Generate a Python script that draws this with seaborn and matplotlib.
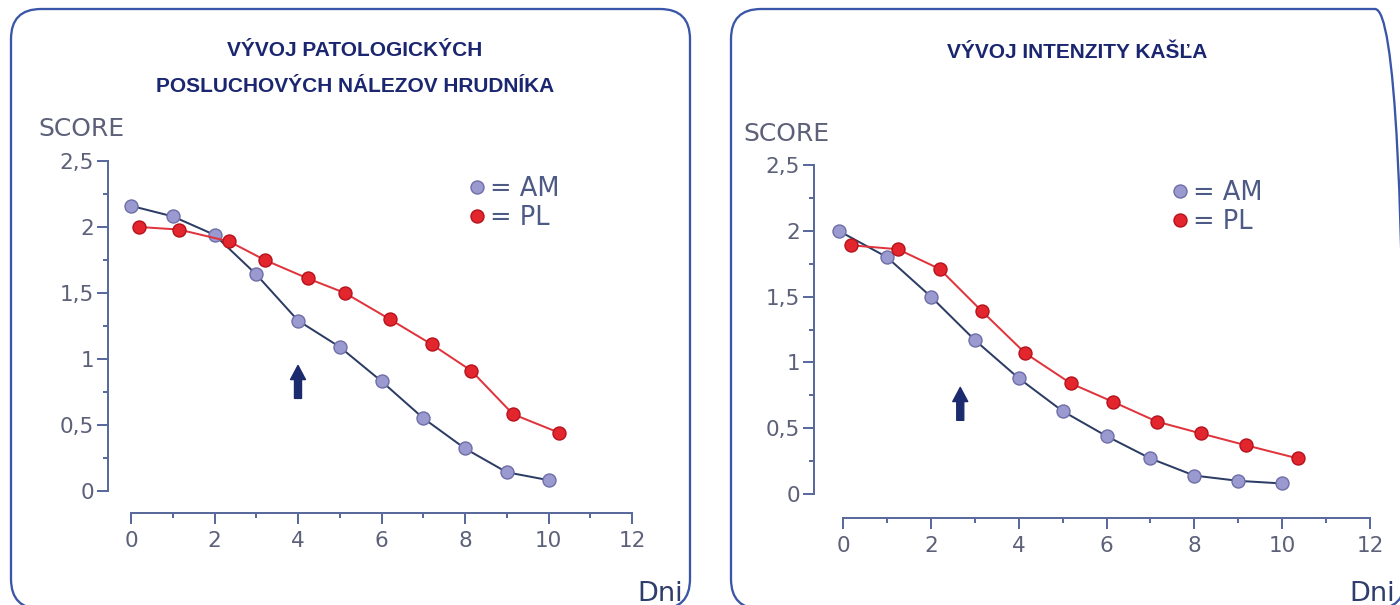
import matplotlib
matplotlib.use("Agg")
import matplotlib.pyplot as plt
import seaborn as sns
import pandas as pd
from matplotlib.lines import Line2D
from matplotlib.patches import FancyBboxPatch

sns.set_theme(style="white")
plt.rcParams['font.family'] = ['DejaVu Sans']

# ---------------- data ----------------
titles = [["VÝVOJ PATOLOGICKÝCH", "POSLUCHOVÝCH NÁLEZOV HRUDNÍKA"], ["VÝVOJ INTENZITY KAŠĽA"]]
series_names = ["AM", "PL"]

left_am_x = [0, 1, 2, 3, 4, 5, 6, 7, 8, 9, 10]
left_am_y = [2.16, 2.08, 1.94, 1.64, 1.29, 1.09, 0.83, 0.55, 0.32, 0.14, 0.08]
left_pl_x = [0.18, 1.15, 2.35, 3.2, 4.23, 5.12, 6.2, 7.2, 8.15, 9.15, 10.25]
left_pl_y = [2.0, 1.98, 1.89, 1.75, 1.61, 1.50, 1.30, 1.11, 0.91, 0.58, 0.44]

right_am_x = [-0.1, 1, 2, 3, 4, 5, 6, 7, 8, 9, 10]
right_am_y = [2.0, 1.8, 1.5, 1.17, 0.88, 0.63, 0.44, 0.27, 0.14, 0.10, 0.08]
right_pl_x = [0.18, 1.25, 2.2, 3.16, 4.15, 5.19, 6.15, 7.15, 8.15, 9.18, 10.36]
right_pl_y = [1.89, 1.86, 1.71, 1.39, 1.07, 0.84, 0.70, 0.55, 0.46, 0.37, 0.27]

arrow_x = [4.0, 2.67]
arrow_y = [(0.70, 0.95), (0.56, 0.81)]

xticks = [0, 2, 4, 6, 8, 10, 12]
yticks = [0, 0.5, 1, 1.5, 2, 2.5]
ytick_labels = ["0", "0,5", "1", "1,5", "2", "2,5"]
ylabel_text = "SCORE"
xlabel_text = "Dni"

# ---------------- styling ----------------
W, H = 1400, 605
fig = plt.figure(figsize=(W / 100, H / 100), dpi=100)
fig.patch.set_facecolor("white")

PX = 0.72  # points per pixel
AXIS_C = "#5a6a9c"
TICKLBL_C = "#5c6078"
TITLE_C = "#1b2670"
NAVY = "#1c2b6e"
AM_LINE = "#2c3c64"
AM_FACE = "#9a9ad0"
AM_EDGE = "#6e6ea8"
PL_LINE = "#e0343c"
PL_FACE = "#e3262e"
PL_EDGE = "#b5121b"

# background panels (pixel coordinates, y measured upward)
bg = fig.add_axes([0, 0, 1, 1], zorder=-5)
bg.set_xlim(0, W)
bg.set_ylim(0, H)
bg.axis("off")

def fy(y_px):
    return H - y_px

for (x0, x1) in [(11, 690), (731, 1405)]:
    bg.add_patch(FancyBboxPatch((x0, fy(609)), x1 - x0, 600,
                                boxstyle="round,pad=0,rounding_size=30",
                                fill=False, ec="#3a56a8", lw=2.3 * PX))

def px_axes(x0, x1, y0, y1):
    # x0,x1: pixel x of data 0 and 12; y0: pixel y of data 0, y1: pixel y of data 2.5
    return fig.add_axes([x0 / W, (H - y0) / H, (x1 - x0) / W, (y0 - y1) / H])

panels = [
    dict(ax=px_axes(131, 632, 490.7, 161), am=(left_am_x, left_am_y), pl=(left_pl_x, left_pl_y),
         lout=23, bout=22, title_ys=[51, 87], tcenter=355, score_xy=(38, 129),
         dni_xy=(683, 601), leg_anchor=(0.655, 0.985)),
    dict(ax=px_axes(843, 1370, 494, 165), am=(right_am_x, right_am_y), pl=(right_pl_x, right_pl_y),
         lout=29, bout=24, title_ys=[53], tcenter=1077, score_xy=(743, 134),
         dni_xy=(1395, 601), leg_anchor=(0.605, 0.985)),
]

for i, p in enumerate(panels):
    ax = p["ax"]
    ax.set_facecolor("none")
    df_am = pd.DataFrame({"x": p["am"][0], "y": p["am"][1]})
    df_pl = pd.DataFrame({"x": p["pl"][0], "y": p["pl"][1]})
    sns.lineplot(data=df_am, x="x", y="y", ax=ax, estimator=None, sort=False,
                 color=AM_LINE, lw=2.0 * PX, marker="o", markersize=13 * PX,
                 markerfacecolor=AM_FACE, markeredgecolor=AM_EDGE, markeredgewidth=1.0,
                 clip_on=False, zorder=3)
    sns.lineplot(data=df_pl, x="x", y="y", ax=ax, estimator=None, sort=False,
                 color=PL_LINE, lw=2.0 * PX, marker="o", markersize=13 * PX,
                 markerfacecolor=PL_FACE, markeredgecolor=PL_EDGE, markeredgewidth=1.0,
                 clip_on=False, zorder=4)

    ax.set_xlim(0, 12)
    ax.set_ylim(0, 2.5)
    ax.set_xlabel("")
    ax.set_ylabel("")
    for s in ["top", "right"]:
        ax.spines[s].set_visible(False)
    ax.spines["left"].set_position(("outward", p["lout"] * PX))
    ax.spines["bottom"].set_position(("outward", p["bout"] * PX))
    for s in ["left", "bottom"]:
        ax.spines[s].set_color(AXIS_C)
        ax.spines[s].set_linewidth(2.0 * PX)

    ax.set_xticks(xticks)
    ax.set_xticks(list(range(0, 13)), minor=True)
    ax.set_yticks(yticks)
    ax.set_yticklabels(ytick_labels)
    ax.set_yticks([k * 0.25 for k in range(11)], minor=True)
    ax.tick_params(axis="both", which="major", direction="out", length=11 * PX,
                   width=2.0 * PX, color=AXIS_C, labelcolor=TICKLBL_C, labelsize=15.5)
    ax.tick_params(axis="both", which="minor", direction="out", length=5 * PX,
                   width=2.0 * PX, color=AXIS_C)
    ax.tick_params(axis="y", which="major", pad=2)
    ax.tick_params(axis="x", which="major", pad=5)
    ax.tick_params(left=True, bottom=True, which="both")

    # legend
    handles = [Line2D([], [], ls="", marker="o", markersize=13 * PX,
                      markerfacecolor=AM_FACE, markeredgecolor=AM_EDGE),
               Line2D([], [], ls="", marker="o", markersize=13 * PX,
                      markerfacecolor=PL_FACE, markeredgecolor=PL_EDGE)]
    leg = ax.legend(handles, ["= " + n for n in series_names], loc="upper left",
                    bbox_to_anchor=p["leg_anchor"], frameon=False, handlelength=0.6,
                    handletextpad=0.2, labelspacing=0.1, fontsize=18.5,
                    borderaxespad=0)
    for t in leg.get_texts():
        t.set_color("#4e5a86")

    # arrow
    ax.annotate("", xy=(arrow_x[i], arrow_y[i][1]), xytext=(arrow_x[i], arrow_y[i][0]),
                arrowprops=dict(arrowstyle="simple,head_length=0.85,head_width=0.9,tail_width=0.42",
                                color=NAVY, mutation_scale=12, shrinkA=0, shrinkB=0))

    # texts in pixel coordinates
    for line, ty in zip(titles[i], p["title_ys"]):
        bg.text(p["tcenter"], fy(ty), line, ha="center", va="center", fontsize=15,
                fontweight="bold", color=TITLE_C, family="Liberation Sans")
    bg.text(p["score_xy"][0], fy(p["score_xy"][1]), ylabel_text, ha="left", va="center",
            fontsize=18, color=TICKLBL_C)
    bg.text(p["dni_xy"][0], fy(p["dni_xy"][1]), xlabel_text, ha="right", va="baseline",
            fontsize=19.5, color="#2e3d6b")

fig.savefig("out.png", dpi=100, facecolor="white")
